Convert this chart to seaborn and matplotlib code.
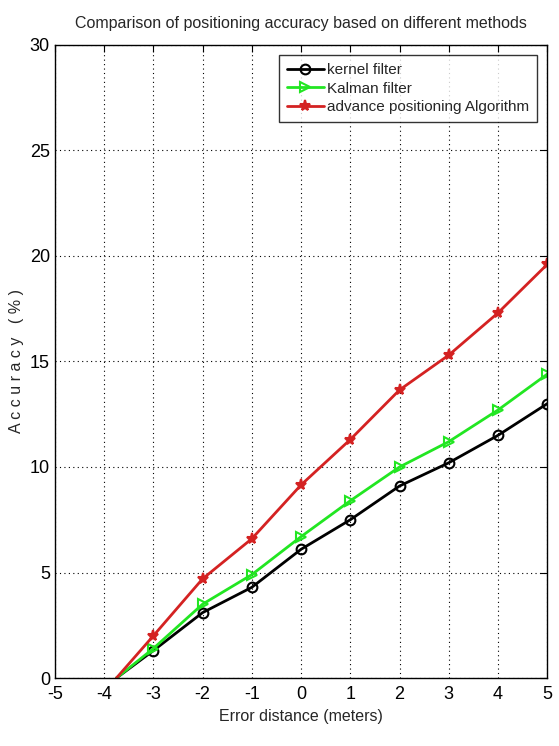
import pandas as pd
import matplotlib.pyplot as plt
import seaborn as sns

# values
x_vals = [-3.75, -3, -2, -1, 0, 1, 2, 3, 4, 5]
kernel = [0, 1.3, 3.1, 4.3, 6.1, 7.5, 9.1, 10.2, 11.5, 13.0]
kalman = [0, 1.4, 3.5, 4.9, 6.7, 8.4, 10.0, 11.2, 12.7, 14.4]
advance = [0, 2.0, 4.7, 6.6, 9.15, 11.3, 13.65, 15.3, 17.3, 19.6]

names = ["kernel filter", "Kalman filter", "advance positioning Algorithm"]
colors = ["black", "#22e622", "#d42222"]
markers = ["o", ">", "*"]

sns.set_style("white")
plt.rcParams["font.family"] = ["Liberation Sans", "DejaVu Sans"]
plt.rcParams["axes.unicode_minus"] = False

fig = plt.figure(figsize=(5.59, 7.46), dpi=100)
ax = fig.add_axes([0.098, 0.091, 0.881, 0.849])

for name, vals, c, m in zip(names, [kernel, kalman, advance], colors, markers):
    df = pd.DataFrame({"x": x_vals, "y": vals})
    sns.lineplot(data=df, x="x", y="y", ax=ax, color=c, linewidth=2,
                 marker=m, markersize=7 if m != "*" else 8,
                 markerfacecolor="none" if m != "*" else c,
                 markeredgecolor=c, markeredgewidth=1.5,
                 markevery=list(range(1, len(x_vals))), label=name)

ax.set_xlim(-5, 5)
ax.set_ylim(0, 30)
ax.set_xticks(range(-5, 6))
ax.set_yticks(range(0, 31, 5))
ax.grid(True, color="black", linestyle=(0, (1, 3)), linewidth=0.8)
for s in ax.spines.values():
    s.set_color("black")
    s.set_linewidth(1)
ax.tick_params(direction="in", top=True, right=True, length=5, labelsize=13,
               color="black", labelcolor="black")
ax.tick_params(axis="x", pad=6)
ax.set_title("Comparison of positioning accuracy based on different methods",
             fontsize=11.5, pad=12)
ax.set_xlabel("Error distance (meters)", fontsize=11.5)
ax.set_ylabel("A c c u r a c y   ( % )", fontsize=11.5)

leg = ax.legend(loc="upper right", fontsize=11, frameon=True, fancybox=False,
                edgecolor="black", borderaxespad=0.7, handlelength=2.4,
                handletextpad=0.2, labelspacing=0.3, borderpad=0.5)
leg.get_frame().set_linewidth(1)

fig.savefig("out.png", dpi=100)
